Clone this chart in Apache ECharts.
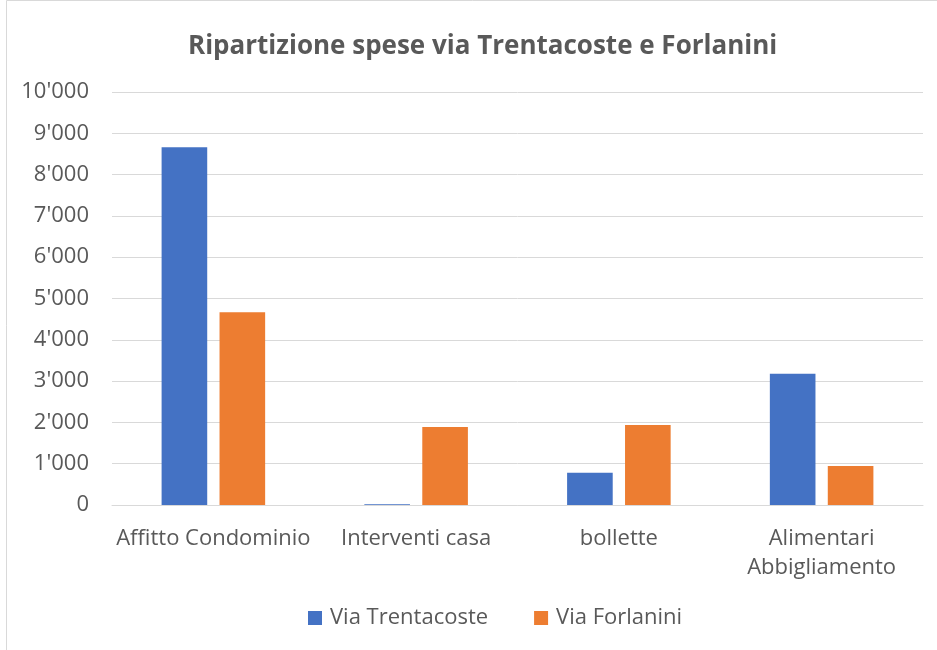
<!DOCTYPE html>
<html><head><meta charset="utf-8">
<script src="https://cdn.jsdelivr.net/npm/echarts@6/dist/echarts.min.js"></script>
<style>html,body{margin:0;padding:0;background:#fff}#c{width:937px;height:650px}</style>
</head><body><div id="c"></div>
<script>
const categories = ['Affitto Condominio', 'Interventi casa', 'bollette', 'Alimentari\nAbbigliamento'];
const trentacoste = [8660, 20, 780, 3180];
const forlanini = [4670, 1890, 1940, 945];
const yTicks = [0, 1000, 2000, 3000, 4000, 5000, 6000, 7000, 8000, 9000, 10000];

const font = 'Open Sans';
const txt = '#595959';
const chart = echarts.init(document.getElementById('c'));
chart.setOption({
  animation: false,
  graphic: [{type: 'rect', shape: {x: 6.5, y: 0.5, width: 940, height: 660}, style: {fill: 'none', stroke: '#d9d9d9', lineWidth: 1}}],
  title: {text: 'Ripartizione spese via Trentacoste e Forlanini', left: 183, top: 29,
    textStyle: {fontFamily: font, fontSize: 26, fontWeight: 'bold', color: txt}},
  legend: {data: ['Via Trentacoste', 'Via Forlanini'], top: 602, left: 303, itemWidth: 14, itemHeight: 14, itemGap: 46,
    icon: 'rect', textStyle: {fontFamily: font, fontSize: 22, color: txt, padding: [0, 0, 0, 3]}},
  grid: {left: 112, right: 14, top: 92, bottom: 145},
  xAxis: {type: 'category', data: categories,
    axisLine: {lineStyle: {color: '#d9d9d9', width: 1}}, axisTick: {show: false},
    axisLabel: {fontFamily: font, fontSize: 22, color: txt, margin: 19, lineHeight: 29, interval: 0}},
  yAxis: {type: 'value', min: 0, max: 10000, interval: 1000,
    axisLine: {show: false}, axisTick: {show: false},
    splitLine: {lineStyle: {color: '#d9d9d9', width: 1}},
    axisLabel: {fontFamily: font, fontSize: 22, color: txt, margin: 23,
      formatter: v => yTicks.includes(v) ? String(v).replace(/\B(?=(\d{3})+(?!\d))/g, "'") : ''}},
  series: [
    {name: 'Via Trentacoste', type: 'bar', data: trentacoste, barWidth: '22.5%', barGap: '27%',
      itemStyle: {color: '#4472c4'}},
    {name: 'Via Forlanini', type: 'bar', data: forlanini, barWidth: '22.5%', barGap: '27%',
      itemStyle: {color: '#ed7d31'}}
  ]
});
</script></body></html>
